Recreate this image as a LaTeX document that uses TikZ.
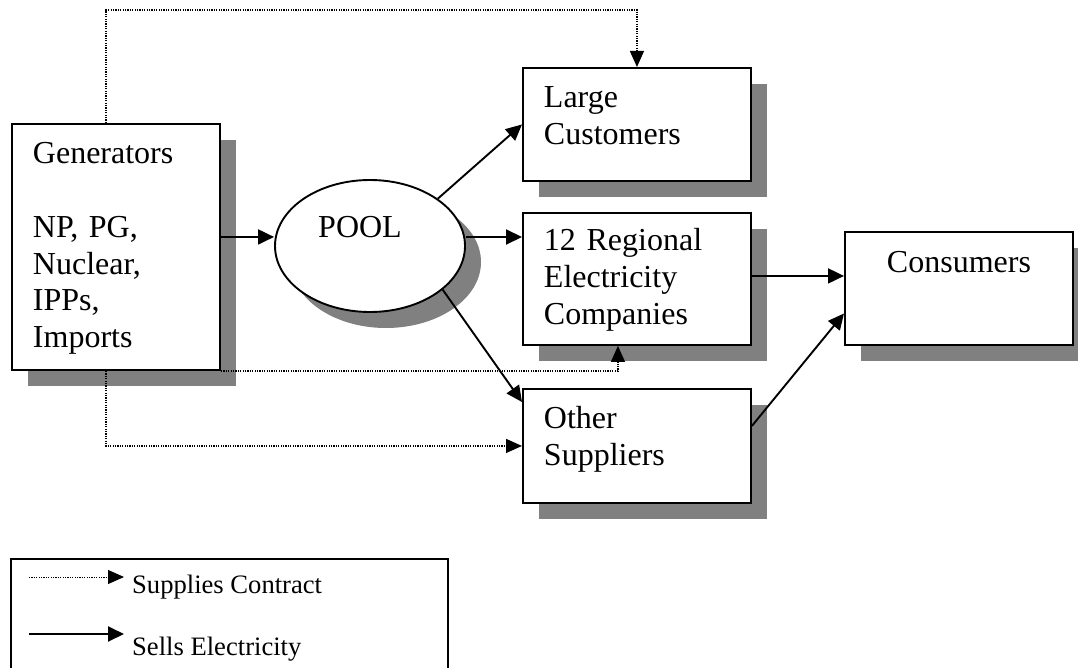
\documentclass[tikz,border=0pt]{standalone}
\usepackage{fontspec}
\setmainfont{Liberation Serif}
\usetikzlibrary{shapes.geometric,shadows,arrows.meta}
\definecolor{shadowgray}{HTML}{808080}

\begin{document}
\begin{tikzpicture}[x=1pt, y=-1pt,
  every node/.style={font=\fontsize{32pt}{36.7pt}\selectfont},
  unit/.style={draw, line width=1.9pt, fill=white, rectangle, anchor=north west,
    inner xsep=21pt, inner ysep=0pt, align=left,
    general shadow={fill=shadowgray, shadow xshift=16pt, shadow yshift=-16pt}},
  pool/.style={draw, ellipse, line width=1.9pt, fill=white, inner sep=0pt,
    minimum width=190pt, minimum height=132pt, text height=24pt, text depth=42pt,
    general shadow={fill=shadowgray, shadow xshift=16pt, shadow yshift=-16pt}},
  sells/.style={line width=1.9pt, -{Triangle[length=16pt,width=15pt]}},
  contract/.style={line width=1.3pt, dash pattern=on 1.2pt off 1.2pt, -{Triangle[length=16pt,width=14pt]}},
  keytext/.style={anchor=base west, inner sep=0pt, font=\fontsize{26.6pt}{30pt}\selectfont}]

\useasboundingbox (0,0) rectangle (1078,668);

\node[unit, text width=166pt, text height=40pt, text depth=206pt] (gen) at (11,123) {Generators\\[36.7pt]NP, PG,\\Nuclear,\\IPPs,\\Imports};
\node[pool] (pool) at (370,246) {POOL\hspace*{20pt}};
\node[unit, text width=186pt, text height=40pt, text depth=73pt] (large) at (522,67) {Large\\Customers};
\node[unit, text width=186pt, text height=38pt, text depth=94pt] (regional) at (522,212) {12 Regional\\Electricity\\Companies};
\node[unit, text width=186pt, text height=40pt, text depth=74pt] (other) at (522,388) {Other\\Suppliers};
\node[unit, text width=186pt, text height=41pt, text depth=72pt, align=center] (consumers) at (844,231) {Consumers};

% electricity sales
\draw[sells] ([yshift=10pt]gen.east) -- ([yshift=10pt]gen.east -| pool.west);
\draw[sells] (pool.north east) -- (large.west);
\draw[sells] ([yshift=9pt]pool.east) -- ([yshift=9pt]pool.east -| regional.west);
\draw[sells] (pool.-31) -- ([yshift=-14pt]other.north west);
\draw[sells] ([yshift=3pt]regional.east) -- ([yshift=3pt]regional.east -| consumers.west);
\draw[sells] ([yshift=20pt]other.east) -- ([yshift=-25pt]consumers.west);

% supply contracts
\draw[contract] ([xshift=-10pt]gen.north) -- ++(0,-113) -| (large.north);
\draw[contract] ([xshift=-10pt]gen.south) |- (other.west);
\draw[contract] (gen.south east) -| ([xshift=-19pt]regional.south);

% legend
\node[draw, line width=1.9pt, anchor=north west, minimum width=437pt, minimum height=150pt, inner sep=0pt] (legend) at (10,558) {};
\coordinate (k1a) at (29,577);
\coordinate (k1b) at (124,577);
\coordinate (k2a) at (29,634);
\coordinate (k2b) at (124,634);
\draw[contract, line width=1pt] (k1a) -- (k1b);
\draw[sells] (k2a) -- (k2b);
\node[keytext] (k1) at (132,593) {Supplies Contract};
\node[keytext] (k2) at (132,655) {Sells Electricity};

\end{tikzpicture}
\end{document}
